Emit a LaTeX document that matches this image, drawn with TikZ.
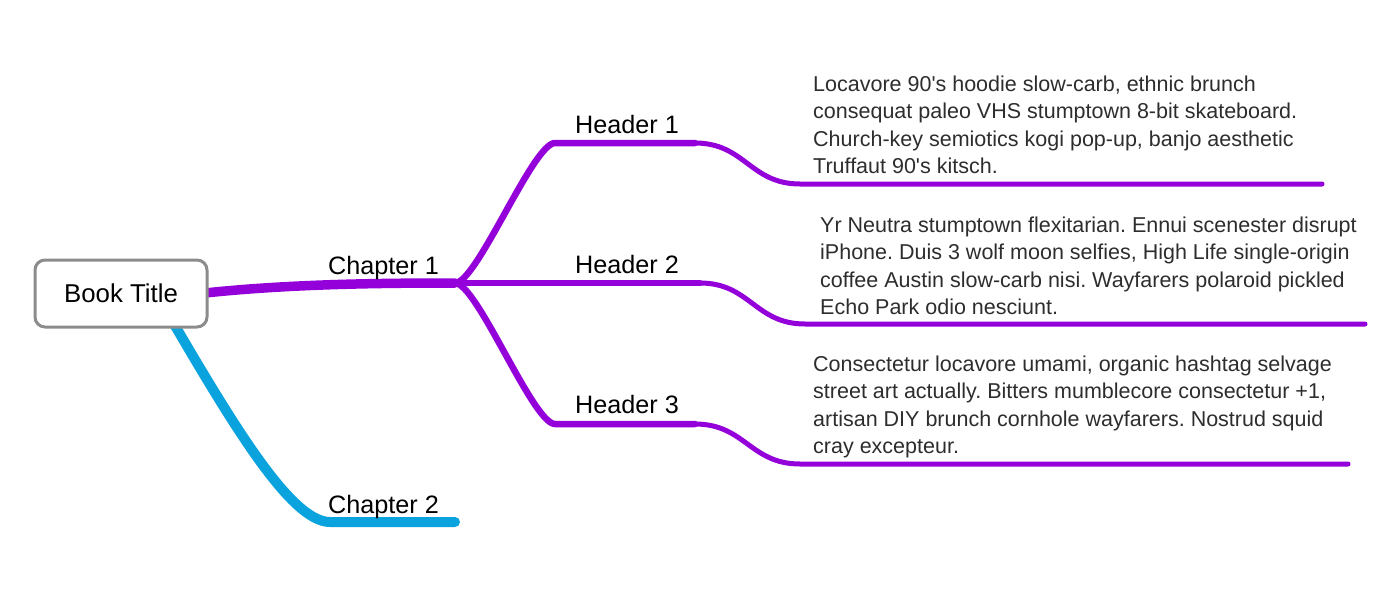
\documentclass[tikz,border=0pt]{standalone}
\usepackage{fontspec}
\setmainfont{Liberation Sans}[Ligatures=TeXOff]
\usetikzlibrary{backgrounds}
\definecolor{mmpurple}{RGB}{148,0,217}
\definecolor{mmblue}{RGB}{10,163,222}
\definecolor{boxgray}{RGB}{140,140,140}
\definecolor{bodytext}{RGB}{45,45,45}
\frenchspacing
\begin{document}
\begin{tikzpicture}[x=1pt,y=-1pt,
  titlebox/.style={draw=boxgray, line width=3pt, rounded corners=10pt, fill=white,
    minimum width=172pt, minimum height=67pt, inner sep=0pt, font=\fontsize{25.8}{30}\selectfont},
  lbl/.style={anchor=base west, inner sep=0pt, font=\fontsize{25.2}{30}\selectfont},
  body/.style={anchor=north west, inner sep=0pt, align=left, text=bodytext,
    font=\fontsize{21.5}{27.2}\selectfont\frenchspacing},
  chapline/.style={line width=8.5pt, line cap=round},
  headline/.style={draw=mmpurple, line width=6.5pt, line cap=round},
  underline/.style={draw=mmpurple, line width=5pt, line cap=round}
]
\useasboundingbox (0,0) rectangle (1384,597);

% nodes
\node[titlebox] (book) at (121,293.5) {Book Title};
\node[lbl] (ch1) at (328,274) {Chapter 1};
\node[lbl] (ch2) at (328,513) {Chapter 2};
\node[lbl] (hd1) at (575,133) {Header 1};
\node[lbl] (hd2) at (575,273) {Header 2};
\node[lbl] (hd3) at (575,413) {Header 3};
\node[body] (tx1) at (813,76) {Locavore 90's hoodie slow-carb, ethnic brunch\\consequat paleo VHS stumptown 8-bit skateboard.\\Church-key semiotics kogi pop-up, banjo aesthetic\\Truffaut 90's kitsch.};
\node[body] (tx2) at (820,217) {Yr Neutra stumptown flexitarian. Ennui scenester disrupt\\iPhone. Duis 3 wolf moon selfies, High Life single-origin\\coffee Austin slow-carb nisi. Wayfarers polaroid pickled\\Echo Park odio nesciunt.};
\node[body] (tx3) at (813,356) {Consectetur locavore umami, organic hashtag selvage\\street art actually. Bitters mumblecore consectetur +1,\\artisan DIY brunch cornhole wayfarers. Nostrud squid\\cray excepteur.};

% coordinates
\coordinate (c2s) at (160,300);
\coordinate (c2a) at (330,522);
\coordinate (c2b) at (455,522);
\coordinate (fork) at (455,283);
\coordinate (h1a) at (555,143);
\coordinate (h1b) at (695,143);
\coordinate (t1a) at (800,184);
\coordinate (t1b) at (1322,184);
\coordinate (h2b) at (700,283);
\coordinate (t2a) at (805,324);
\coordinate (t2b) at (1365,324);
\coordinate (h3a) at (555,424);
\coordinate (h3b) at (695,424);
\coordinate (t3a) at (800,464);
\coordinate (t3b) at (1348,464);

\begin{scope}[on background layer]
  \draw[chapline, draw=mmblue, line width=10pt] (c2s) .. controls +(70,120) and +(-40,0) .. (c2a) -- (c2b);
  \draw[chapline, draw=mmpurple, line width=9.5pt] (book.center) -- (205,293) .. controls (290,284) and (380,283) .. (fork);
  \draw[headline] (fork) .. controls +(22,0) and +(-22,0) .. (h1a) -- (h1b);
  \draw[underline] (h1b) .. controls +(50,0) and +(-50,0) .. (t1a) -- (t1b);
  \draw[headline] (fork) -- (h2b);
  \draw[underline] (h2b) .. controls +(50,0) and +(-50,0) .. (t2a) -- (t2b);
  \draw[headline] (fork) .. controls +(22,0) and +(-22,0) .. (h3a) -- (h3b);
  \draw[underline] (h3b) .. controls +(50,0) and +(-50,0) .. (t3a) -- (t3b);
\end{scope}
\end{tikzpicture}
\end{document}
